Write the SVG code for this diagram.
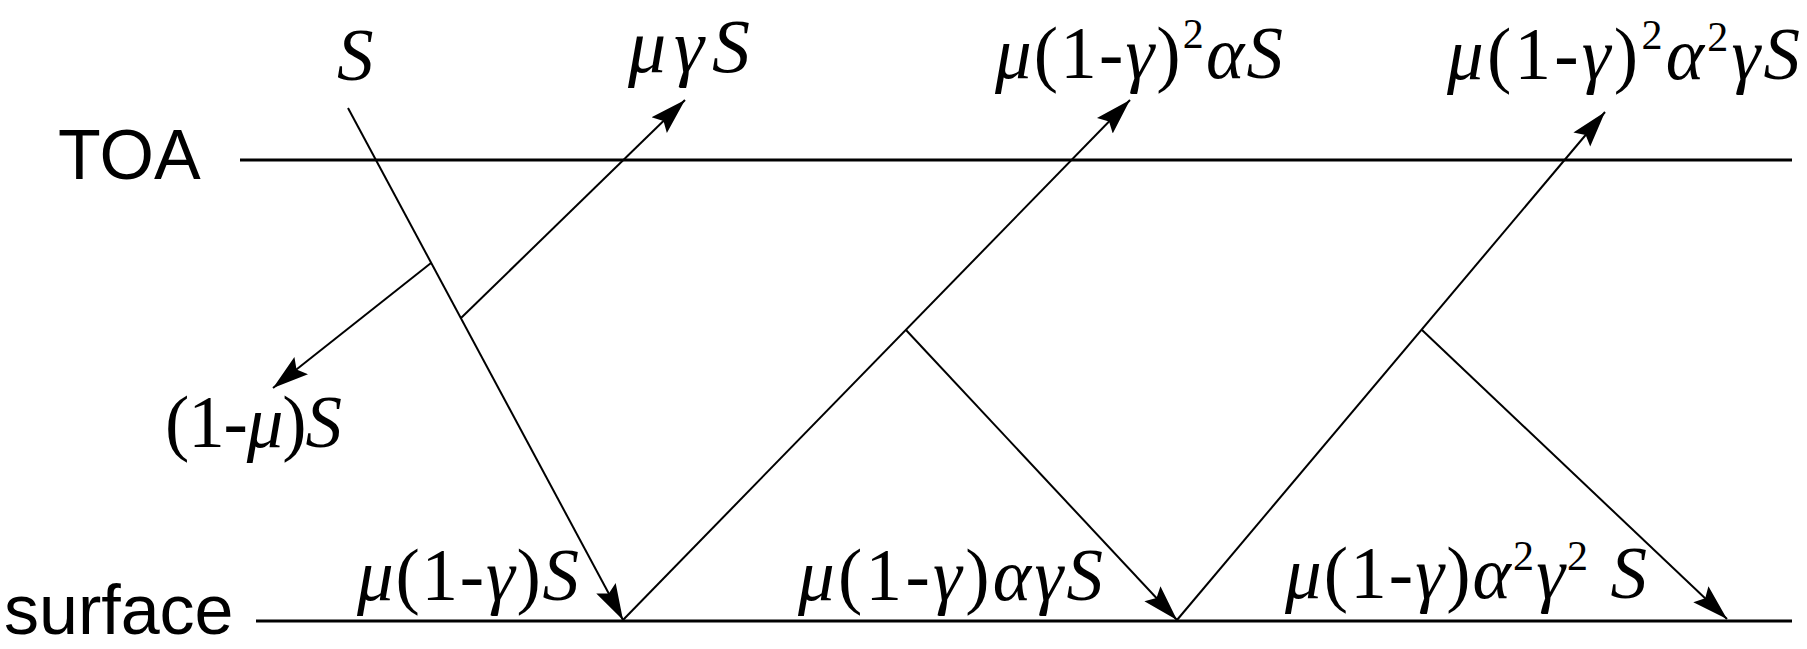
<svg xmlns="http://www.w3.org/2000/svg" width="1807" height="649" viewBox="0 0 1807 649">
<style>
.ax{stroke:#000;stroke-width:3;fill:none}
.ray{stroke:#000;stroke-width:2;fill:none}
.arr{marker-end:url(#ah)}
.word{font-family:"Liberation Sans",Arial,sans-serif;font-size:70px;fill:#000}
.lbl{font-family:"Liberation Serif","Times New Roman",serif;font-size:73px;fill:#000}
.i{font-style:italic}
.sup{font-size:42px}
</style>
<defs>
<marker id="ah" markerUnits="userSpaceOnUse" markerWidth="40" markerHeight="24" viewBox="0 0 40 24" refX="36" refY="12" orient="auto">
<path d="M0,1 L36,12 L0,23 L6,12 Z" fill="#000"/>
</marker>
</defs>
<rect width="1807" height="649" fill="#fff"/>
<g id="toa"><text class="word" x="58" y="179">TOA</text><line class="ax" x1="240" y1="160" x2="1792" y2="160"/></g>
<g id="surface"><text class="word" x="4" y="634">surface</text><line class="ax" x1="256" y1="621" x2="1792" y2="621"/></g>
<g id="connectors">
<line class="ray arr" x1="348" y1="108" x2="623" y2="620"/>
<line class="ray arr" x1="431" y1="263" x2="273" y2="388"/>
<line class="ray arr" x1="461" y1="318" x2="685" y2="100"/>
<line class="ray arr" x1="623" y1="620" x2="1130" y2="100"/>
<line class="ray arr" x1="906" y1="330" x2="1177" y2="620"/>
<line class="ray arr" x1="1177" y1="620" x2="1605" y2="112"/>
<line class="ray arr" x1="1422" y1="330" x2="1727" y2="619"/>
</g>
<g id="n-S"><text class="lbl i" x="337" y="80">S</text></g>
<g id="n-muGammaS"><text class="lbl i" x="628" y="72" style="font-size:76px" textLength="122" lengthAdjust="spacing">μγS</text></g>
<g id="n-oneMinusMu"><text class="lbl" x="165" y="447" textLength="177" lengthAdjust="spacing">(1-<tspan class="i">μ</tspan>)<tspan class="i">S</tspan></text></g>
<g id="n-top2"><text class="lbl" x="995" y="78" textLength="288" lengthAdjust="spacing"><tspan class="i">μ</tspan>(1-<tspan class="i">γ</tspan>)<tspan class="sup" dy="-30">2</tspan><tspan class="i" dy="30">αS</tspan></text></g>
<g id="n-top3"><text class="lbl" x="1447" y="79" textLength="353" lengthAdjust="spacing"><tspan class="i">μ</tspan>(1-<tspan class="i">γ</tspan>)<tspan class="sup" dy="-30">2</tspan><tspan class="i" dy="30">α</tspan><tspan class="sup" dy="-28">2</tspan><tspan class="i" dy="28">γS</tspan></text></g>
<g id="n-bot1"><text class="lbl" x="357" y="600" textLength="222" lengthAdjust="spacing"><tspan class="i">μ</tspan>(1-<tspan class="i">γ</tspan>)<tspan class="i">S</tspan></text></g>
<g id="n-bot2"><text class="lbl" x="798" y="600" textLength="305" lengthAdjust="spacing"><tspan class="i">μ</tspan>(1-<tspan class="i">γ</tspan>)<tspan class="i">αγS</tspan></text></g>
<g id="n-bot3"><text class="lbl" x="1285" y="598" textLength="362" lengthAdjust="spacing"><tspan class="i">μ</tspan>(1-<tspan class="i">γ</tspan>)<tspan class="i">α</tspan><tspan class="sup" dy="-28">2</tspan><tspan class="i" dy="28">γ</tspan><tspan class="sup" dy="-28">2</tspan><tspan class="i" dy="28"> S</tspan></text></g>
</svg>
